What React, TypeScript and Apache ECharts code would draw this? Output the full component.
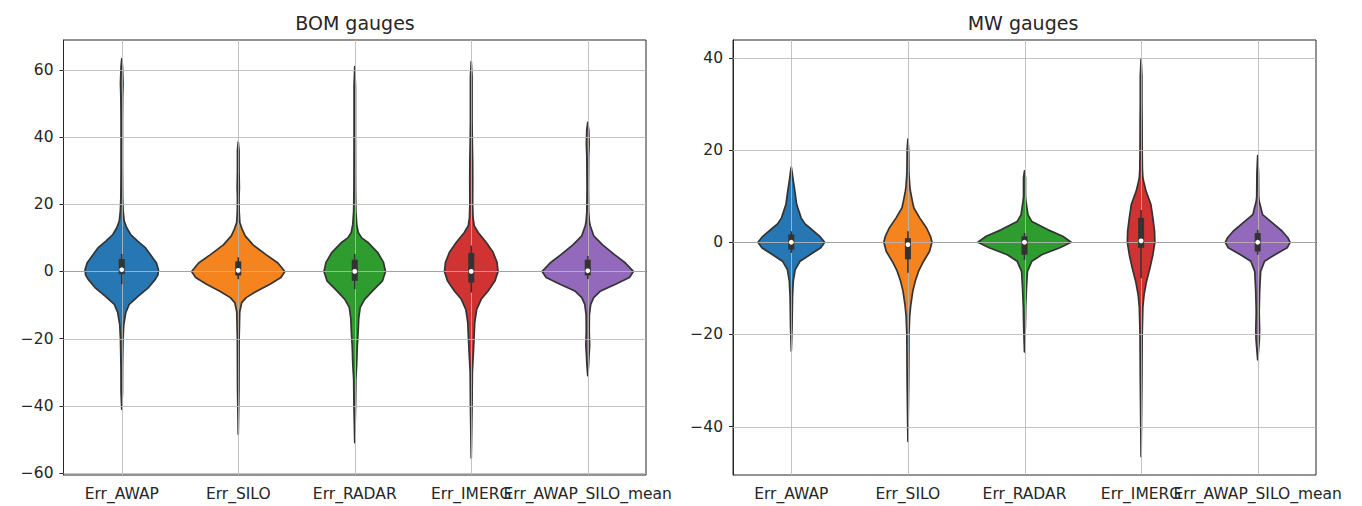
import React, { useEffect, useRef } from "react";
import * as echarts from "echarts";

const categories = ["Err_AWAP", "Err_SILO", "Err_RADAR", "Err_IMERG", "Err_AWAP_SILO_mean"];
const colors = ["#2677b3", "#f5841f", "#2f9c2f", "#d13232", "#9369bb"];
const titles = ["BOM gauges", "MW gauges"];

const bomTicks = [-60, -40, -20, 0, 20, 40, 60];
const mwTicks = [-40, -20, 0, 20, 40];

// Violin density profiles: [value, relative density]
const bomAwap = [[63.3,0],[61,0.7],[56,1.3],[52,0.9],[45,0.7],[30,0.7],[22,0.9],[18,1.4],[15,2.5],[13,5],[11,9],[9,16],[7,24],[5,29],[2.5,35],[0.5,37],[-1,36.5],[-2.3,34],[-4.8,27],[-7.3,17],[-9.8,7.5],[-12.3,4],[-16,2],[-20,1.3],[-28,0.8],[-36,0.7],[-41,0]];
const bomSilo = [[38.6,0],[36,0.8],[30,0.8],[25,1.1],[22,0.8],[18,0.9],[14.6,1.6],[12.5,4],[10.6,7],[7.9,15],[5,28],[2.5,40],[0,47],[-1.8,43],[-3.8,32],[-5.8,19],[-7.8,8],[-9.3,3.5],[-12,1.5],[-20,0.9],[-35,0.7],[-48.5,0]];
const bomRadar = [[61,0],[55,0.7],[40,0.7],[25,0.8],[18,1.1],[14,2],[11.6,3.5],[10,7],[8.7,13],[5.7,23],[2.7,29],[0,31],[-2.8,28],[-5.8,18],[-8.3,10],[-10.7,5.5],[-14,4],[-18,3.4],[-22,2.6],[-28,1.9],[-32,1.1],[-40,0.8],[-51,0]];
const bomImerg = [[62.5,0],[58,0.8],[45,0.8],[38,1.1],[33,1.4],[27,1.5],[20,1.4],[16,1.8],[13.6,3],[11.6,7],[8.7,15],[5.7,22],[2.7,26],[0,27],[-2.8,24],[-5.8,17],[-8.3,10],[-11.3,5.5],[-15.2,3.5],[-20,2.8],[-25,2],[-30,1.1],[-40,0.8],[-55.5,0]];
const bomMean = [[44.4,0],[42,1],[38,1.4],[34,0.9],[25,0.7],[18,0.9],[15,1.6],[13.6,2.5],[10.6,6],[7.9,15],[5,27],[2.5,38],[0,46],[-1.8,42],[-3.8,28],[-5.8,13],[-7.8,6],[-9.8,3],[-13,1.6],[-18,1.5],[-22,1.9],[-25,1.3],[-28,0.8],[-31,0]];

const mwAwap = [[16.3,0],[15,1],[13.9,1.6],[12.5,2.6],[11.1,3.6],[8.2,5.5],[5.3,10],[4,14],[3.1,19],[1.3,29],[0,34],[-1.2,30],[-2.7,19],[-4.1,9],[-5.9,4],[-8.4,2],[-12,1.2],[-18,0.8],[-23.6,0]];
const mwSilo = [[22.4,0],[20,0.8],[15,1],[12,2],[11.1,2.6],[9,4.5],[7.5,6],[5.3,12],[3.1,19],[1.3,23],[0,24.5],[-2,22],[-4.1,16],[-6.2,11],[-8.4,7.5],[-10.6,5],[-13.5,3],[-16,1.8],[-20,1.1],[-30,0.8],[-43.2,0]];
const mwRadar = [[15.5,0],[14,1],[10,1],[8.9,1.5],[6,3.5],[4.5,7.5],[2.7,24],[1.3,39],[0,47.5],[-1.2,36],[-2.7,17.5],[-4.1,7.5],[-6.3,3],[-9.9,2],[-14,1.2],[-18,0.9],[-23.8,0]];
const mwImerg = [[39.8,0],[36,0.8],[30,0.8],[26,1],[20,1.1],[16,1.3],[14,1.8],[13.2,2.6],[11.1,5],[8.2,10],[5.3,12],[2.4,13.7],[0,14],[-2.7,12],[-5.6,9],[-8.5,5.5],[-11.4,3],[-14,1.8],[-20,1.1],[-30,0.8],[-46.5,0]];
const mwMean = [[18.8,0],[15,0.8],[10,1],[8.9,1.5],[6,5],[4.2,15],[2.4,25],[1,30.7],[0,33],[-1.2,30],[-2.7,17.5],[-4.1,7],[-6.3,3],[-10.6,2],[-15,1.5],[-19,1.9],[-21,1.7],[-23,1],[-25.5,0]];

// Inner box statistics
const bomWhiskerLow = [-3.8, -2.3, -5.3, -6.3, -2.3];
const bomQ1 = [-0.8, -1.2, -2.8, -3.3, -1.2];
const bomMedian = [0.5, 0.3, 0, 0, 0.2];
const bomQ3 = [3.7, 3, 3.5, 5.5, 3.5];
const bomWhiskerHigh = [5.2, 4.2, 5.2, 7.7, 4.6];

const mwWhiskerLow = [-2.3, -6.6, -3.8, -7.8, -2.7];
const mwQ1 = [-1.6, -3.7, -2.7, -1.2, -2.0];
const mwMedian = [0, -0.5, 0, 0.3, 0];
const mwQ3 = [1.7, 0.9, 1.3, 5.3, 2.0];
const mwWhiskerHigh = [2.4, 2.4, 2.0, 7, 2.7];

const FONT = "DejaVu Sans";

type Panel = {
  profiles: number[][][];
  low: number[]; q1: number[]; med: number[]; q3: number[]; high: number[];
  ticks: number[]; min: number; max: number;
};

const panels: Panel[] = [
  { profiles: [bomAwap, bomSilo, bomRadar, bomImerg, bomMean], low: bomWhiskerLow, q1: bomQ1, med: bomMedian, q3: bomQ3, high: bomWhiskerHigh, ticks: bomTicks, min: -60.6, max: 68.9 },
  { profiles: [mwAwap, mwSilo, mwRadar, mwImerg, mwMean], low: mwWhiskerLow, q1: mwQ1, med: mwMedian, q3: mwQ3, high: mwWhiskerHigh, ticks: mwTicks, min: -50.5, max: 43.9 },
];

const fmt = (v: number) => (v < 0 ? "\u2212" + Math.abs(v) : String(v));

function buildOption() {
  const grids = [
    { left: 63.5, top: 40, width: 582.5, height: 435 },
    { left: 733, top: 40, width: 583, height: 435 },
  ].map((g) => ({ ...g, show: true, borderColor: "#262626", borderWidth: 1, backgroundColor: "transparent" }));

  const xAxes = panels.map((_, gi) => ({
    type: "category",
    gridIndex: gi,
    data: categories,
    boundaryGap: true,
    axisLine: { lineStyle: { color: "#262626", width: 1 } },
    axisTick: { alignWithLabel: true, length: 4, lineStyle: { color: "#262626" } },
    axisLabel: { interval: 0, fontSize: 15.5, color: "#262626", fontFamily: FONT, margin: 11 },
    splitLine: { show: false },
  }));

  const yAxes = panels.map((p, gi) => ({
    type: "value",
    gridIndex: gi,
    min: p.min,
    max: p.max,
    axisLine: { show: true, lineStyle: { color: "#262626", width: 1 } },
    axisTick: { show: true, length: 4, customValues: p.ticks, lineStyle: { color: "#262626" } },
    axisLabel: { customValues: p.ticks, fontSize: 15.5, color: "#262626", fontFamily: FONT, margin: 10, formatter: fmt },
    splitLine: { show: false },
  }));

  const series: any[] = [];
  panels.forEach((p, gi) => {
    let maxD = 0;
    p.profiles.forEach((pr) => pr.forEach((pt) => { if (pt[1] > maxD) maxD = pt[1]; }));
    const data = categories.map((_, i) => [i, p.med[i]]);

    series.push({
      type: "custom",
      name: titles[gi] + " violins",
      xAxisIndex: gi,
      yAxisIndex: gi,
      z: 2,
      silent: true,
      data,
      encode: { x: 0, y: 1 },
      renderItem: (params: any, api: any) => {
        const idx = api.value(0);
        const prof = p.profiles[idx];
        const band = api.size([1, 0])[0];
        const scale = (0.4 * band) / maxD;
        const right = prof.map(([v, d]) => {
          const c = api.coord([idx, v]);
          return [c[0] + d * scale, c[1]];
        });
        const left = prof
          .slice(1, prof.length - 1)
          .reverse()
          .map(([v, d]) => {
            const c = api.coord([idx, v]);
            return [c[0] - d * scale, c[1]];
          });
        return {
          type: "polygon",
          shape: { points: right.concat(left) },
          style: { fill: colors[idx], stroke: "#333333", lineWidth: 1.7, lineJoin: "round" },
        };
      },
    });

    series.push({
      type: "custom",
      name: titles[gi] + " grid",
      xAxisIndex: gi,
      yAxisIndex: gi,
      z: 3,
      silent: true,
      data: [[0, 0]],
      encode: { x: 0, y: 1 },
      renderItem: (params: any, api: any) => {
        const cs = params.coordSys;
        const children: any[] = [];
        p.ticks.forEach((t) => {
          const y = Math.round(api.coord([0, t])[1]) + 0.5;
          children.push({ type: "line", shape: { x1: cs.x, y1: y, x2: cs.x + cs.width, y2: y }, style: { stroke: "#b8b8b8", lineWidth: 1, opacity: 0.85 } });
        });
        categories.forEach((_, i) => {
          const x = Math.round(api.coord([i, 0])[0]) + 0.5;
          children.push({ type: "line", shape: { x1: x, y1: cs.y, x2: x, y2: cs.y + cs.height }, style: { stroke: "#b8b8b8", lineWidth: 1, opacity: 0.85 } });
        });
        return { type: "group", children };
      },
    });

    series.push({
      type: "custom",
      name: titles[gi] + " boxes",
      xAxisIndex: gi,
      yAxisIndex: gi,
      z: 4,
      silent: true,
      data,
      encode: { x: 0, y: 1 },
      renderItem: (params: any, api: any) => {
        const idx = api.value(0);
        const lo = api.coord([idx, p.low[idx]]);
        const hi = api.coord([idx, p.high[idx]]);
        const a = api.coord([idx, p.q1[idx]]);
        const b = api.coord([idx, p.q3[idx]]);
        const m = api.coord([idx, p.med[idx]]);
        return {
          type: "group",
          children: [
            { type: "line", shape: { x1: lo[0], y1: lo[1], x2: hi[0], y2: hi[1] }, style: { stroke: "#333333", lineWidth: 1.6 } },
            { type: "rect", shape: { x: a[0] - 3, y: b[1], width: 6, height: a[1] - b[1] }, style: { fill: "#333333" } },
            { type: "circle", shape: { cx: m[0], cy: m[1], r: 2.4 }, style: { fill: "#ffffff" } },
          ],
        };
      },
    });
  });

  return {
    animation: false,
    backgroundColor: "#ffffff",
    title: [
      { text: titles[0], left: 350, top: 8, textAlign: "center", textStyle: { fontSize: 19, fontWeight: "normal", color: "#262626", fontFamily: FONT } },
      { text: titles[1], left: 1018, top: 8, textAlign: "center", textStyle: { fontSize: 19, fontWeight: "normal", color: "#262626", fontFamily: FONT } },
    ],
    grid: grids,
    xAxis: xAxes,
    yAxis: yAxes,
    series,
  };
}

export default function App() {
  const ref = useRef<HTMLDivElement>(null);
  useEffect(() => {
    if (!ref.current) return;
    const chart = echarts.init(ref.current, undefined, { renderer: "svg" });
    chart.setOption(buildOption() as any);
    return () => chart.dispose();
  }, []);
  return <div ref={ref} style={{ position: "fixed", left: 0, top: 0, width: 1362, height: 506 }} />;
}
